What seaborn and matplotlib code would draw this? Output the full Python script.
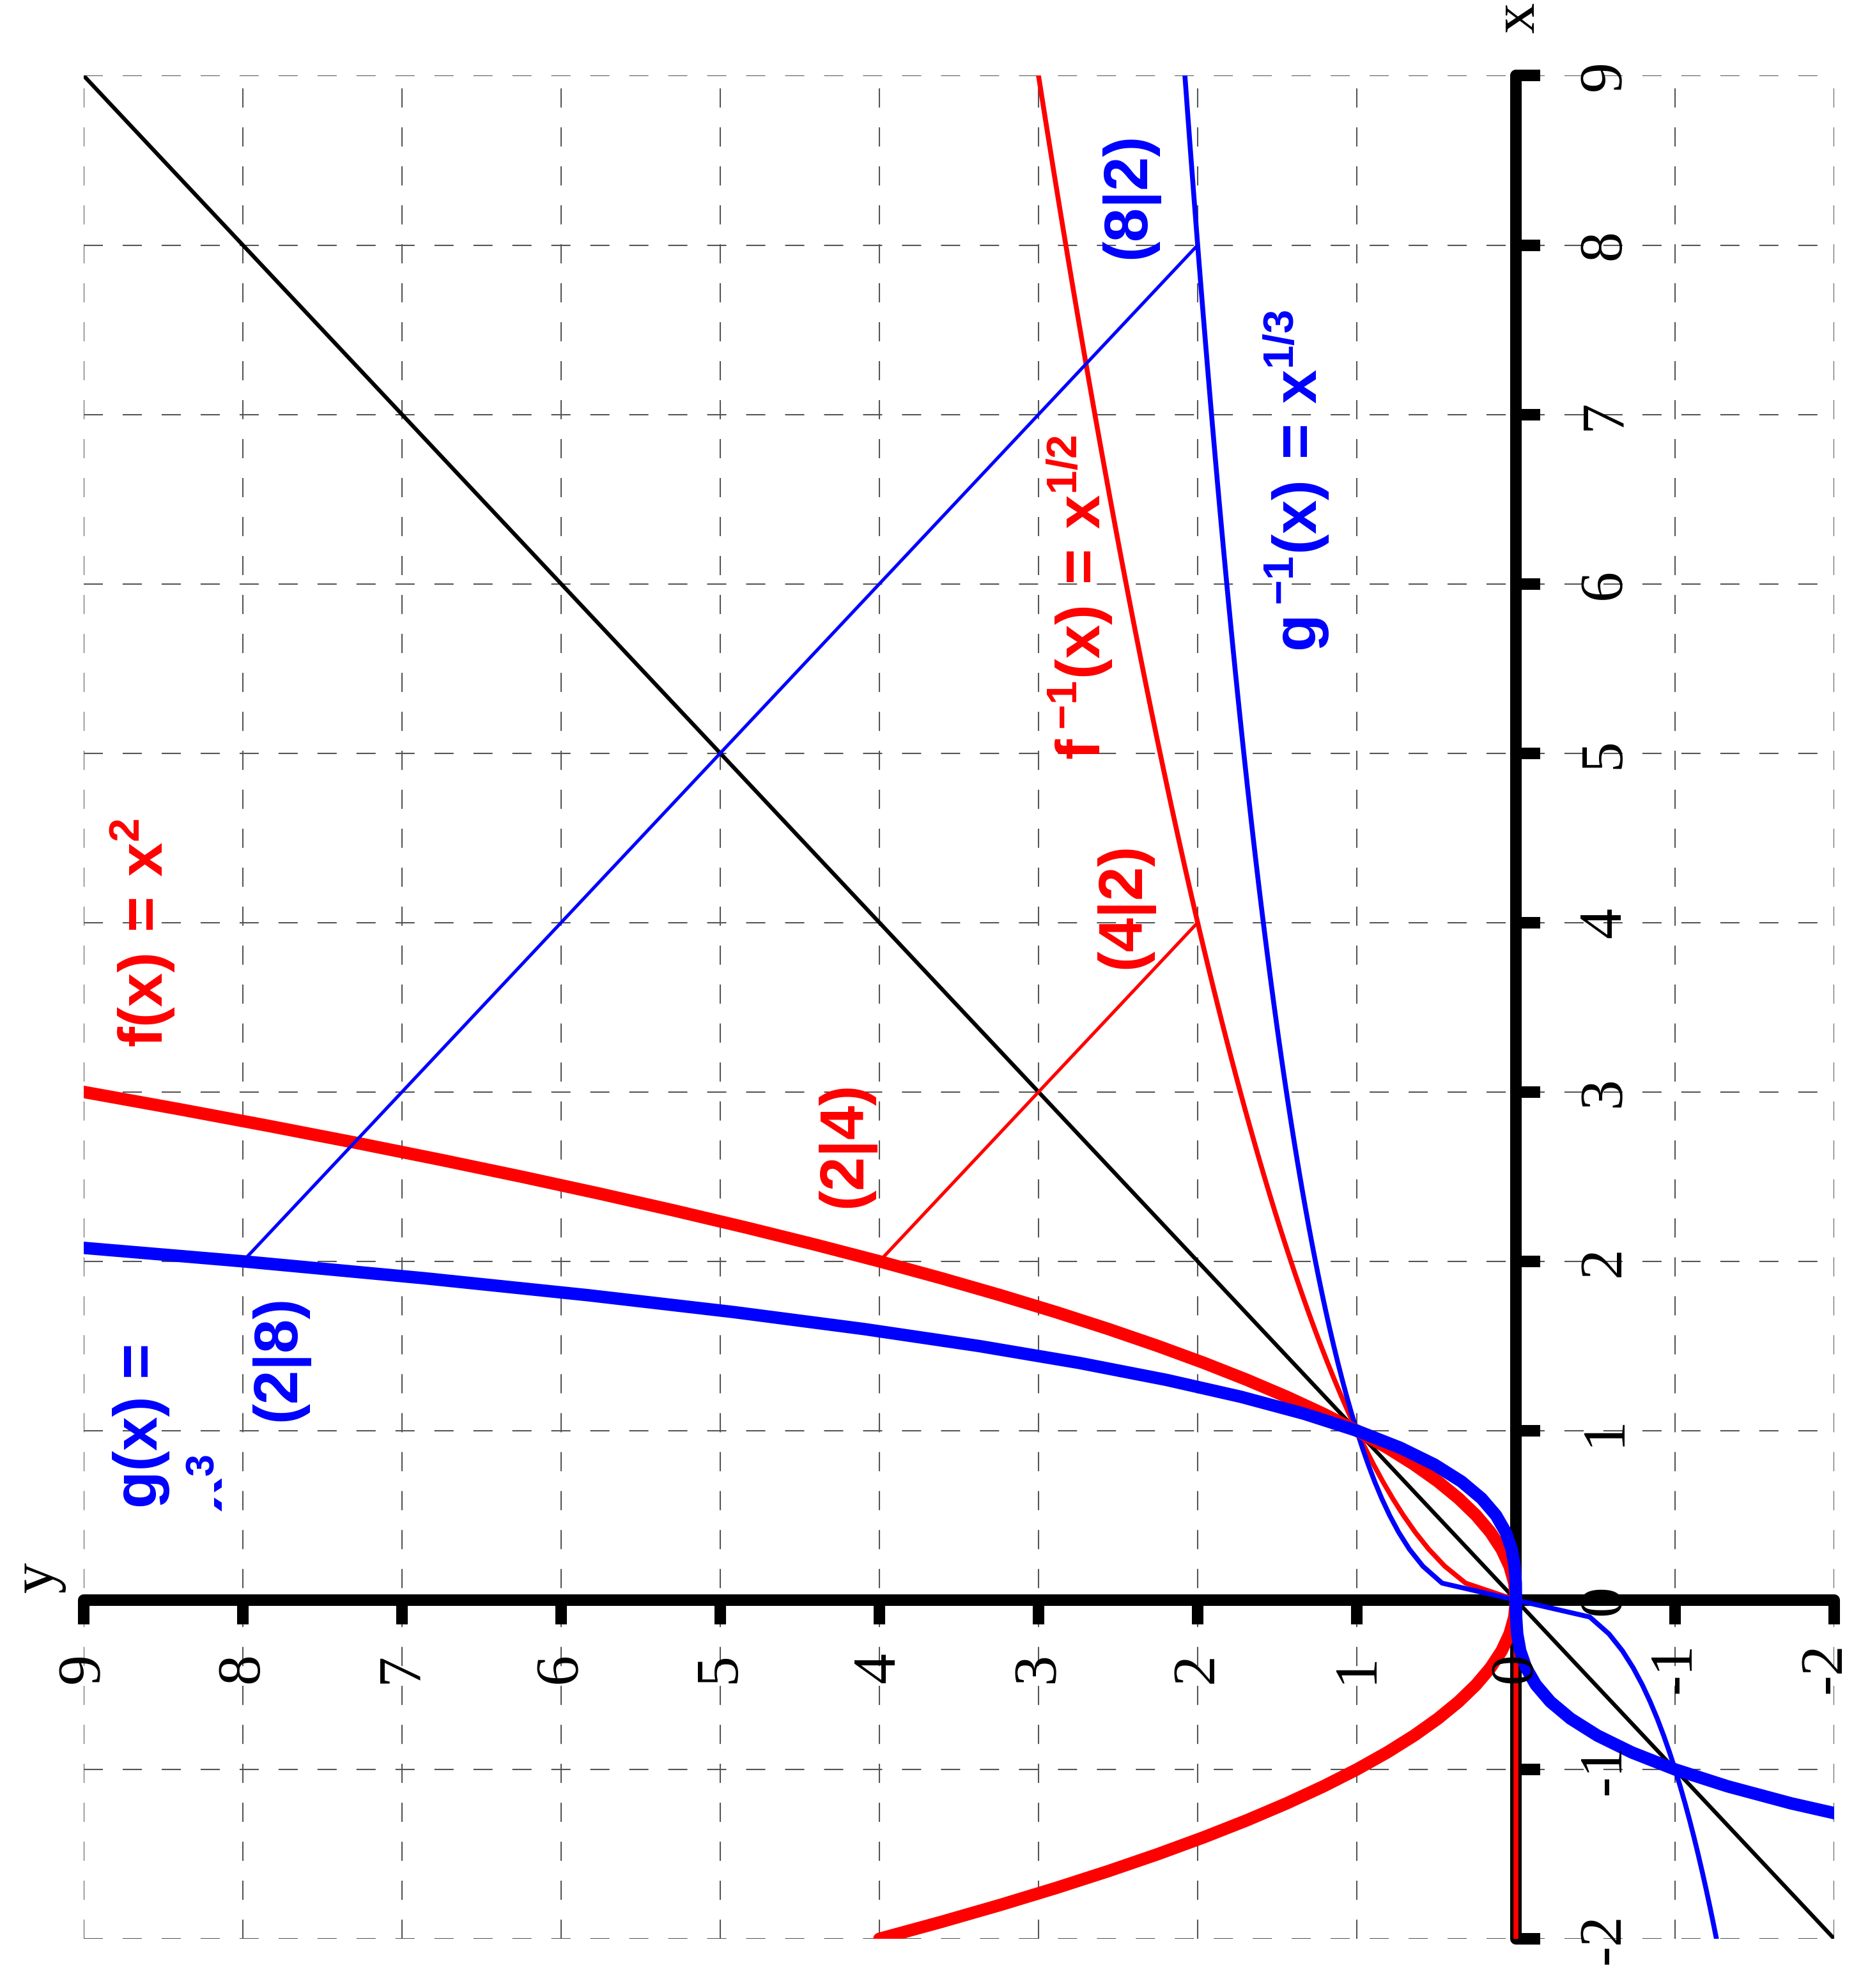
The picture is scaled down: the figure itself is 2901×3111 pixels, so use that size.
import numpy as np
import matplotlib
matplotlib.use("Agg")
import matplotlib.pyplot as plt
import seaborn as sns
from matplotlib.transforms import Bbox, TransformedBbox

# x sample grid of the value table (step 0.1)
x_fg = np.round(np.arange(-2.0, 3.0001, 0.1), 1)
x_inv = np.round(np.arange(-2.0, 9.0001, 0.1), 1)

f_vals = x_fg ** 2                             # f(x) = x^2
g_vals = x_fg ** 3                             # g(x) = x^3
f_inv_vals = np.sqrt(np.clip(x_inv, 0, None))  # x^(1/2), negatives shown as 0
g_inv_vals = np.cbrt(x_inv)                    # x^(1/3)

diag_x = [-2, 9]
diag_y = [-2, 9]
seg_f_x = [2, 4]
seg_f_y = [4, 2]
seg_g_x = [2, 8]
seg_g_y = [8, 2]

ticks = list(range(-2, 10))
tick_labels = [str(t) for t in ticks]

RED = "#ff0000"
BLUE = "#0000ff"

sns.set_theme(style="white")
plt.rcParams["lines.scale_dashes"] = False
plt.rcParams["mathtext.fontset"] = "custom"
plt.rcParams["mathtext.bf"] = "Liberation Sans:bold"
plt.rcParams["mathtext.rm"] = "Liberation Sans:bold"
plt.rcParams["mathtext.it"] = "Liberation Sans:bold"
plt.rcParams["font.family"] = ["Liberation Sans", "DejaVu Sans"]

fig = plt.figure(figsize=(29.01, 31.11), dpi=100)
ax = fig.add_axes([0.04516, 0.02475, 0.94416, 0.93716])

# the chart is turned a quarter turn: horizontal = y value (9 left), vertical = x value
ax.set_xlim(9, -2)
ax.set_ylim(-2, 9)
ax.set_xticks(ticks)
ax.set_yticks(ticks)
ax.set_axisbelow(True)
ax.grid(True, color="#555555", linewidth=1.5, linestyle=(0, (21.6, 22.3)))

for side in ["top", "right"]:
    ax.spines[side].set_visible(False)
for side in ["left", "bottom"]:
    sp = ax.spines[side]
    sp.set_position(("data", 0))
    sp.set_linewidth(13)
    sp.set_color("black")
    sp.set_capstyle("round")
ax.tick_params(axis="y", left=True, direction="in", length=27, width=13,
               color="black", labelleft=False)
ax.tick_params(axis="x", bottom=True, direction="out", length=27, width=13,
               color="black", labelbottom=False)

# function graphs
sns.lineplot(x=diag_y, y=diag_x, sort=False, estimator=None, color="black", linewidth=4.5, ax=ax, zorder=3)
sns.lineplot(x=f_inv_vals, y=x_inv, sort=False, estimator=None, color=RED, linewidth=5.5, ax=ax, zorder=3)
sns.lineplot(x=g_inv_vals, y=x_inv, sort=False, estimator=None, color=BLUE, linewidth=5.5, ax=ax, zorder=3)
sns.lineplot(x=f_vals, y=x_fg, sort=False, estimator=None, color=RED, linewidth=14, ax=ax, zorder=3)
sns.lineplot(x=g_vals, y=x_fg, sort=False, estimator=None, color=BLUE, linewidth=14, ax=ax, zorder=3)
sns.lineplot(x=seg_f_y, y=seg_f_x, sort=False, estimator=None, color=RED, linewidth=3.7, ax=ax, zorder=3)
sns.lineplot(x=seg_g_y, y=seg_g_x, sort=False, estimator=None, color=BLUE, linewidth=3.7, ax=ax, zorder=3)


def rtext(yv, xv, s, color, size=69, family=("Liberation Sans", "DejaVu Sans"), weight="bold", **kw):
    return ax.text(yv, xv, s, rotation=90, ha="center", va="center", color=color,
                   fontsize=size, family=list(family), fontweight=weight, zorder=6, **kw)


# tick labels (the last one is kept just inside the right edge)
serif = ("Liberation Serif", "DejaVu Serif")
for t, lab in zip(ticks, tick_labels):
    rtext(-0.56, t, lab, "black", family=serif, weight="normal")
    rtext(max(t, -1.95), -0.40, lab, "black", family=serif, weight="normal")
rtext(-0.02, 9.34, "x", "black", family=serif, weight="normal")
rtext(9.285, 0.136, "y", "black", family=serif, weight="normal")

# function labels
rtext(8.63, 3.94, r"$\mathbf{f(x)\,=\,x^2}$", RED)
rtext(2.74, 5.92, r"$\mathbf{f\,{}^{-1}(x)\,=\,x^{1/2}}$", RED)
rtext(1.38, 6.61, r"$\mathbf{g\,{}^{-1}(x)\,=\,x^{1/3}}$", BLUE)
rtext(8.64, 1.03, "g(x) =", BLUE)
xclip = rtext(8.233, 0.626, "x", BLUE)
xclip.set_clip_on(True)
xclip.set_clip_box(TransformedBbox(Bbox([[8.18, 0.3], [7.9, 1.0]]), ax.transData))
rtext(8.249, 0.80, "3", BLUE, size=45)

# point labels
rtext(7.77, 1.43, "(2|8)", BLUE)
rtext(4.21, 2.69, "(2|4)", RED)
rtext(2.46, 4.10, "(4|2)", RED)
rtext(2.43, 8.29, "(8|2)", BLUE)

ax.set_xlabel("")
ax.set_ylabel("")
fig.savefig("out.png", dpi=100)
